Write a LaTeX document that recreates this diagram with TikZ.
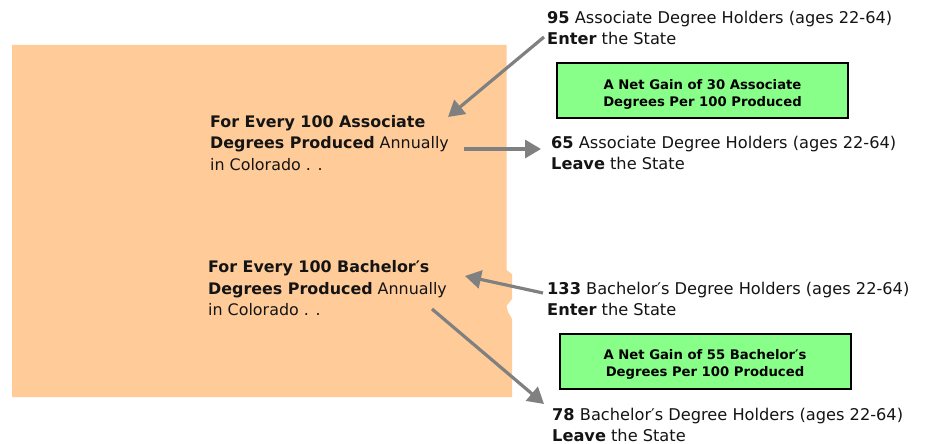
\documentclass[tikz,border=0pt]{standalone}
\usepackage{fontspec}
\setmainfont{DejaVu Sans}
\usetikzlibrary{arrows.meta}
\definecolor{stateorange}{RGB}{255,204,153}
\definecolor{gaingreen}{RGB}{136,255,136}
\definecolor{flowgray}{RGB}{128,128,128}
\definecolor{inktext}{RGB}{20,20,20}
\tikzset{
  x=1pt,y=-1pt,
  caption/.style={anchor=north west,inner sep=0pt,align=left,font=\fontsize{16.2}{21}\selectfont,text=inktext},
  statecaption/.style={caption,font=\fontsize{15.9}{21.5}\selectfont},
  gainbox/.style={draw=black,line width=2pt,fill=gaingreen,minimum width=291pt,minimum height=55pt,align=center,inner sep=0pt,font=\bfseries\fontsize{13.2}{17.5}\selectfont,text=black},
  flow/.style={draw=flowgray,line width=3.2pt,-{Triangle[length=16pt,width=18pt]}}
}
\begin{document}
\begin{tikzpicture}
\useasboundingbox (0,0) rectangle (930,444);
\fill[white] (0,0) rectangle (930,444);
\fill[stateorange] (12,45) -- (506.5,45) -- (506.5,270) -- (512,274) -- (512,299) -- (506.5,306) -- (508,312) -- (512,319) -- (512,397) -- (12,397) -- cycle;
\node[statecaption] (assoc) at (210,115) {\textbf{For Every 100 Associate}\\\textbf{Degrees Produced} Annually\\in Colorado . .};
\node[statecaption] (bach) at (208,260.5) {\textbf{For Every 100 Bachelor′s}\\\textbf{Degrees Produced} Annually\\in Colorado . .};
\node[caption] (aenter) at (547,11) {\textbf{95} Associate Degree Holders (ages 22-64)\\\textbf{Enter} the State};
\node[caption] (aleave) at (551,136) {\textbf{65} Associate Degree Holders (ages 22-64)\\\textbf{Leave} the State};
\node[caption] (benter) at (547,282) {\textbf{133} Bachelor′s Degree Holders (ages 22-64)\\\textbf{Enter} the State};
\node[caption] (bleave) at (552,408) {\textbf{78} Bachelor′s Degree Holders (ages 22-64)\\\textbf{Leave} the State};
\node[gainbox] (again) at (702.5,91) {\rule{0pt}{17pt}A Net Gain of 30 Associate\\Degrees Per 100 Produced};
\node[gainbox] (bgain) at (705,361) {\rule{0pt}{17pt}A Net Gain of 55 Bachelor′s\\Degrees Per 100 Produced};
\coordinate (a1s) at (544,37);
\coordinate (a1e) at (448,117);
\coordinate (a2s) at (464,149);
\coordinate (a2e) at (541,149);
\coordinate (b1s) at (543,293);
\coordinate (b1e) at (465,276);
\coordinate (b2s) at (432,309);
\coordinate (b2e) at (544,404);
\draw[flow] (a1s) -- (a1e);
\draw[flow] (a2s) -- (a2e);
\draw[flow] (b1s) -- (b1e);
\draw[flow] (b2s) -- (b2e);
\end{tikzpicture}
\end{document}
